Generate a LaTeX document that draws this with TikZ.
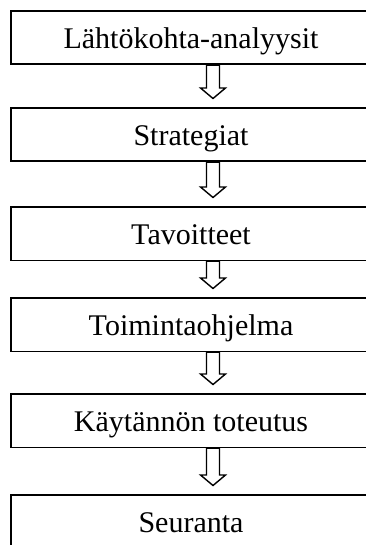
\documentclass[tikz,border=0pt]{standalone}
\usepackage{fontspec}
\setmainfont{Liberation Serif}
\usetikzlibrary{calc}

\tikzset{
  stage/.style={draw, line width=1.6pt, anchor=north, inner sep=0pt,
    minimum width=360pt, minimum height=53.5pt,
    text height=27pt, text depth=5pt,
    font=\fontsize{30}{36}\selectfont},
  flow/.style={draw, line width=1.4pt, fill=white, line join=miter},
}

% hollow block arrow from the bottom of one stage towards the next
\newcommand\flowarrow[2]{%
  \draw[flow] let \p1=(#1.south), \p2=(#2.north) in
    (206.5pt,\y1) -- (206.5pt,\y2+19pt) -- (200.5pt,\y2+19pt) --
    (213pt,\y2+8.5pt) -- (225.5pt,\y2+19pt) -- (219.5pt,\y2+19pt) --
    (219.5pt,\y1) -- cycle;}

\begin{document}
\begin{tikzpicture}[x=1pt,y=-1pt]
  \useasboundingbox (0,0) rectangle (365,545);

  \node[stage] (b1) at (191,10)  {Lähtökohta-analyysit};
  \node[stage] (b2) at (191,107) {Strategiat};
  \node[stage] (b3) at (191,206) {Tavoitteet};
  \node[stage] (b4) at (191,297) {Toimintaohjelma};
  \node[stage] (b5) at (191,393) {Käytännön toteutus};
  \node[stage] (b6) at (191,494) {Seuranta};

  \flowarrow{b1}{b2}
  \flowarrow{b2}{b3}
  \flowarrow{b3}{b4}
  \flowarrow{b4}{b5}
  \flowarrow{b5}{b6}
\end{tikzpicture}
\end{document}
